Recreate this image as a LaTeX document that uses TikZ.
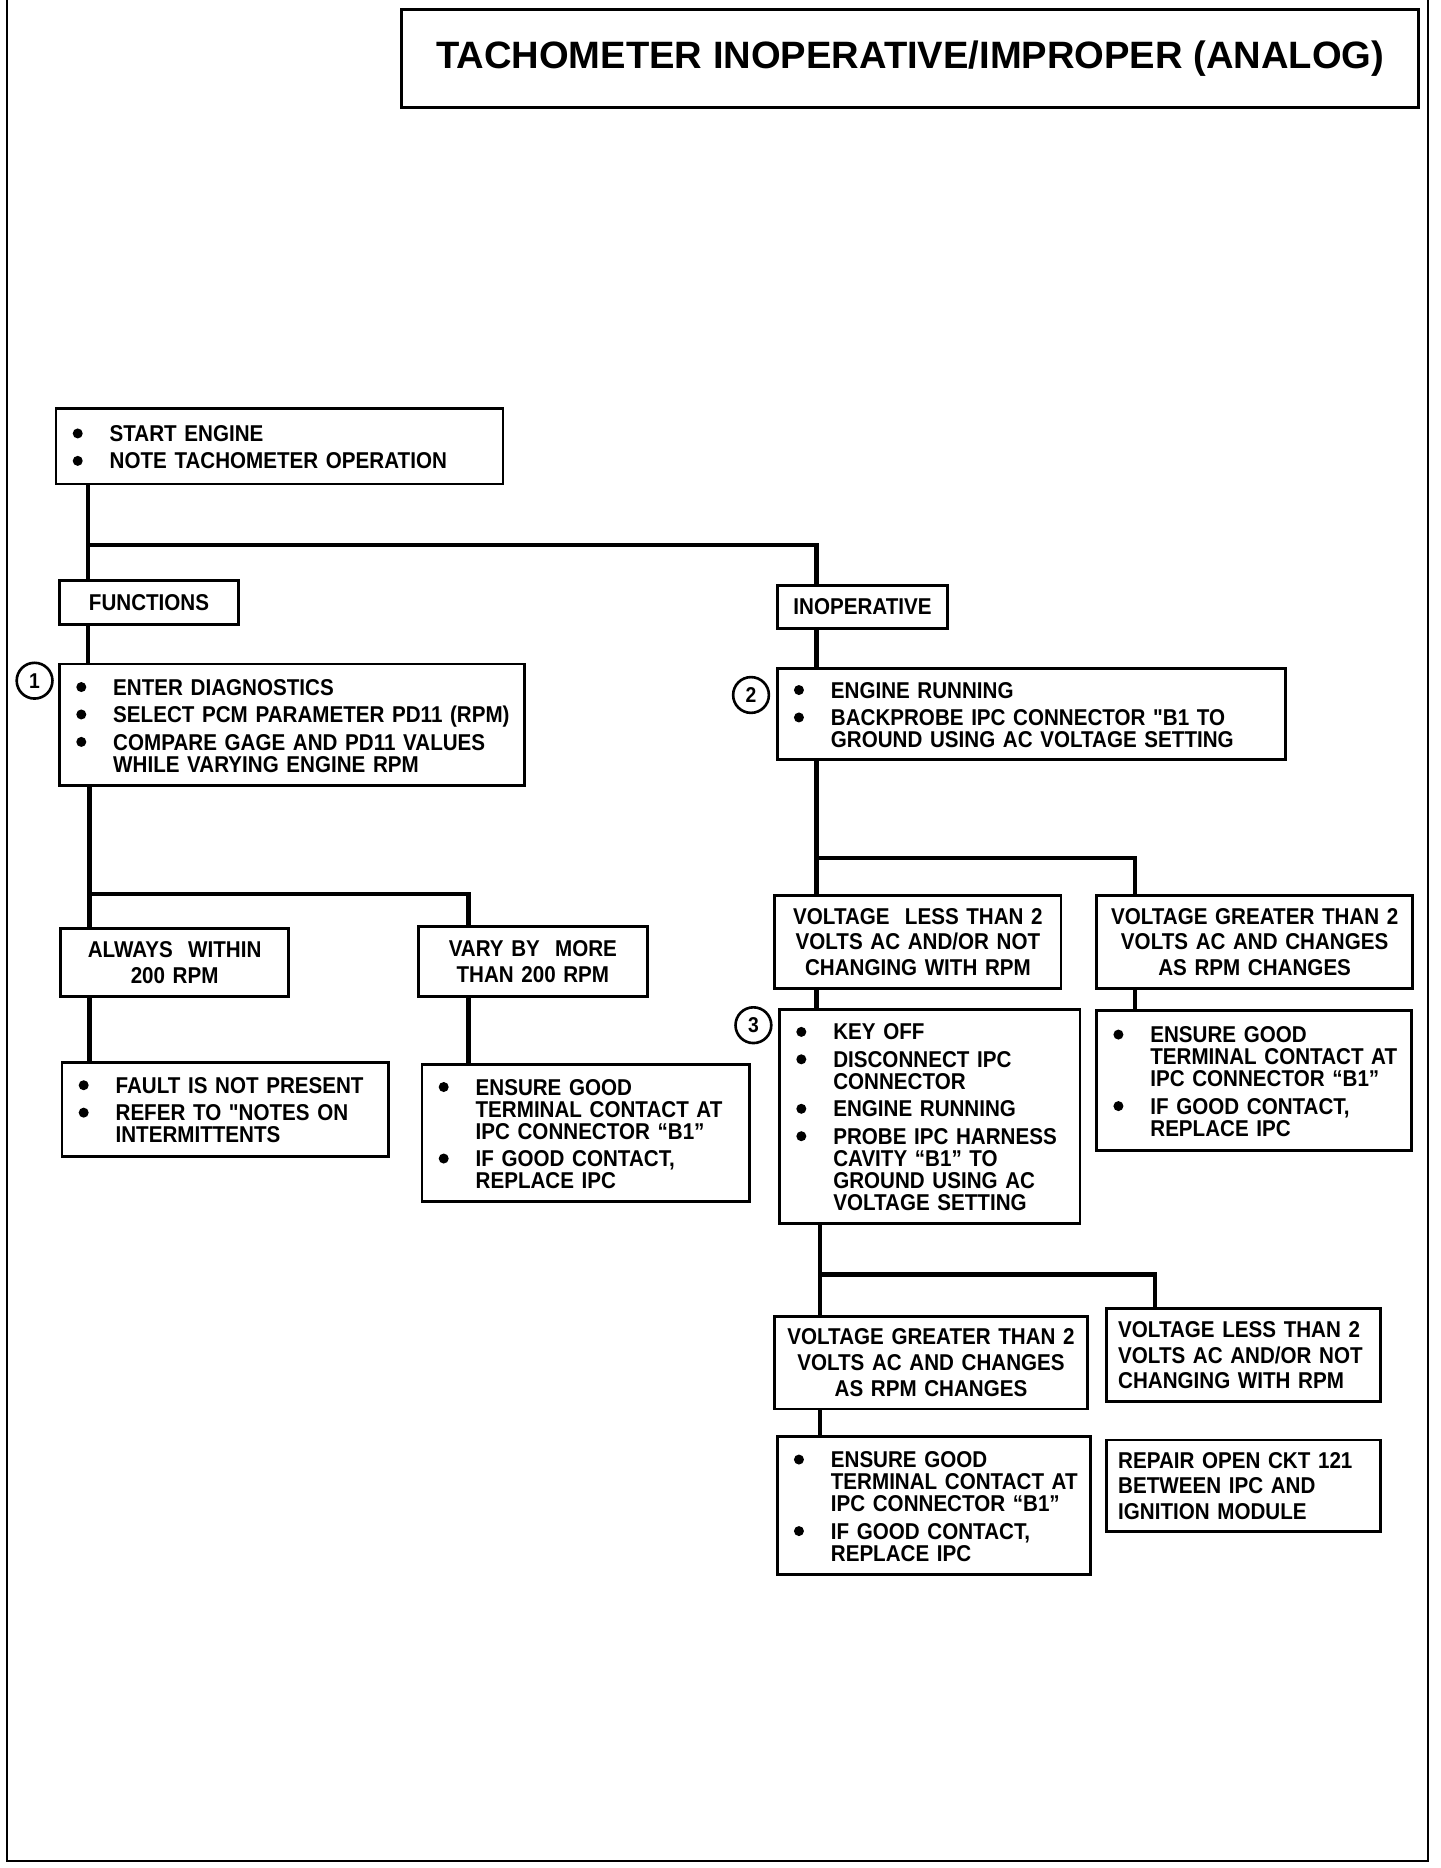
\documentclass[tikz,border=0pt]{standalone}
\usepackage{fontspec}
\setmainfont{Liberation Sans}[FakeStretch=0.9]
\newfontfamily\titlefam{Liberation Sans}
\newfontfamily\plainq{Liberation Sans}[FakeStretch=0.9]
\newlength{\bulind}\setlength{\bulind}{15.5pt}
\newcommand{\bul}{\tikz[baseline=0pt]\fill (2pt,3.4pt) circle (2.1pt);}
\newcommand{\nl}{\hfil\break}
\newcommand{\dq}{{\plainq\bfseries"}}
\newcommand{\itm}[1]{\par\noindent\hangindent=\bulind\hangafter=1\rightskip=-20pt plus 1fil\makebox[\bulind][l]{\bul}#1\par}
\newcommand{\listfont}{\bfseries\fontsize{9.6}{9.25}\selectfont\lineskiplimit=-5pt\parskip=2.25pt}
\newcommand{\ctrfont}{\bfseries\fontsize{9.6}{10.75}\selectfont\lineskiplimit=-5pt}
\tikzset{
  plain/.style={draw, line width=1.2pt, anchor=north west, outer sep=0pt, inner ysep=2pt},
  box/.style={plain, inner xsep=7pt, inner ysep=0pt, align=left, font=\listfont, execute at end node={\par\vspace{4pt}}},
  cbox/.style={plain, inner xsep=3pt, align=center, font=\ctrfont},
  lbox/.style={plain, inner xsep=5pt, align=left, font=\ctrfont},
  wire/.style={line width=1.8pt},
  num/.style={circle, draw, line width=1.1pt, minimum size=15pt, inner sep=0pt, font=\bfseries\fontsize{9}{9}\selectfont},
  frame/.style={line width=1pt},
}
\begin{document}
\begin{tikzpicture}[x=0.5pt, y=-0.5pt]
  \useasboundingbox (0,0) rectangle (1208,1567);
  % page frame and title
  \draw[frame] (6,0) -- (6,1561) -- (1198,1561) -- (1198,0);
  \node[plain, line width=1.1pt, inner sep=0pt, align=center, minimum width=426.5pt, minimum height=41pt,
        font=\titlefam\bfseries\fontsize{16}{16}\selectfont] (title) at (337,8)
        {TACHOMETER INOPERATIVE/IMPROPER (ANALOG)};

  \coordinate (tA) at (74,457);
  \coordinate (tB) at (685,457);
  \coordinate (tC) at (75,750);
  \coordinate (tD) at (393,750);
  \coordinate (tE) at (685,720);
  \coordinate (tF) at (952,720);
  \coordinate (tG) at (688,1069);
  \coordinate (tH) at (969,1069);

  \node[box, text width=173.5pt, minimum height=31.5pt] (start) at (47,343)
    {\itm{START ENGINE}\itm{NOTE TACHOMETER OPERATION}};

  % left branch
  \node[cbox, text width=69pt, minimum height=18.5pt] (func) at (50,487) {FUNCTIONS};
  \node[box, text width=181pt, minimum height=51pt] (chk) at (50,557)
    {\itm{ENTER DIAGNOSTICS}\itm{SELECT PCM PARAMETER PD11 (RPM)}%
     \itm{COMPARE GAGE AND PD11 VALUES\nl WHILE VARYING ENGINE RPM}};
  \node[num] (n1) at (29,571) {1};
  \node[cbox, text width=89.5pt, minimum height=28.5pt] (alw) at (51,779) {ALWAYS \ WITHIN\\200 RPM};
  \node[cbox, text width=90pt, minimum height=29.5pt] (vary) at (351,777) {VARY BY \ MORE\\THAN 200 RPM};
  \node[box, text width=123pt, minimum height=39.5pt] (ok) at (52,891)
    {\itm{FAULT IS NOT PRESENT}\itm{REFER TO \dq NOTES ON\nl INTERMITTENTS}};
  \node[box, text width=123.5pt, minimum height=57.5pt] (fixA) at (354,893)
    {\itm{ENSURE GOOD\nl TERMINAL CONTACT AT\nl IPC CONNECTOR “B1”}\itm{IF GOOD CONTACT,\nl REPLACE IPC}};

  % right branch
  \node[cbox, text width=65.5pt, minimum height=18pt] (inop) at (652,491) {INOPERATIVE};
  \node[box, text width=199pt, minimum height=38pt] (bp) at (652,561)
    {\itm{ENGINE RUNNING}\itm{BACKPROBE IPC CONNECTOR \dq B1 TO\nl GROUND USING AC VOLTAGE SETTING}};
  \node[num] (n2) at (630,583) {2};
  \node[cbox, text width=114pt, minimum height=39pt] (lowA) at (650,751)
    {VOLTAGE \ LESS THAN 2\\VOLTS AC AND/OR NOT\\CHANGING WITH RPM};
  \node[cbox, text width=126.5pt, minimum height=39pt] (highA) at (920,751)
    {VOLTAGE GREATER THAN 2\\VOLTS AC AND CHANGES\\AS RPM CHANGES};
  \node[box, text width=112pt, minimum height=89.5pt] (probe) at (654,847)
    {\itm{KEY OFF}\itm{DISCONNECT IPC\nl CONNECTOR}\itm{ENGINE RUNNING}%
     \itm{PROBE IPC HARNESS\nl CAVITY “B1” TO\nl GROUND USING AC\nl VOLTAGE SETTING}};
  \node[num] (n3) at (632,860) {3};
  \node[box, text width=118pt, minimum height=58.5pt] (fixB) at (920,848)
    {\itm{ENSURE GOOD\nl TERMINAL CONTACT AT\nl IPC CONNECTOR “B1”}\itm{IF GOOD CONTACT,\nl REPLACE IPC}};
  \node[cbox, text width=125pt, minimum height=39pt] (highB) at (650,1104)
    {VOLTAGE GREATER THAN 2\\VOLTS AC AND CHANGES\\AS RPM CHANGES};
  \node[lbox, text width=105pt, minimum height=39pt] (lowB) at (928,1098)
    {VOLTAGE LESS THAN 2\\VOLTS AC AND/OR NOT\\CHANGING WITH RPM};
  \node[box, text width=117.5pt, minimum height=58pt] (fixC) at (652,1205)
    {\itm{ENSURE GOOD\nl TERMINAL CONTACT AT\nl IPC CONNECTOR “B1”}\itm{IF GOOD CONTACT,\nl REPLACE IPC}};
  \node[lbox, text width=105pt, minimum height=38.5pt] (rep) at (928,1208)
    {REPAIR OPEN CKT 121\\BETWEEN IPC AND\\IGNITION MODULE};

  % connectors
  \draw[wire] (start.south -| tA) -- (func.north -| tA);
  \draw[wire] (tA) -| (inop.north -| tB);
  \draw[wire] (func.south -| tA) -- (chk.north -| tA);
  \draw[wire] (chk.south -| tC) -- (alw.north -| tC);
  \draw[wire] (tC) -| (vary.north -| tD);
  \draw[wire] (alw.south -| tC) -- (ok.north -| tC);
  \draw[wire] (vary.south -| tD) -- (fixA.north -| tD);
  \draw[wire] (inop.south -| tB) -- (bp.north -| tB);
  \draw[wire] (bp.south -| tE) -- (lowA.north -| tE);
  \draw[wire] (tE) -| (highA.north -| tF);
  \draw[wire] (lowA.south -| tE) -- (probe.north -| tE);
  \draw[wire] (highA.south -| tF) -- (fixB.north -| tF);
  \draw[wire] (probe.south -| tG) -- (highB.north -| tG);
  \draw[wire] (tG) -| (lowB.north -| tH);
  \draw[wire] (highB.south -| tG) -- (fixC.north -| tG);
\end{tikzpicture}
\end{document}
